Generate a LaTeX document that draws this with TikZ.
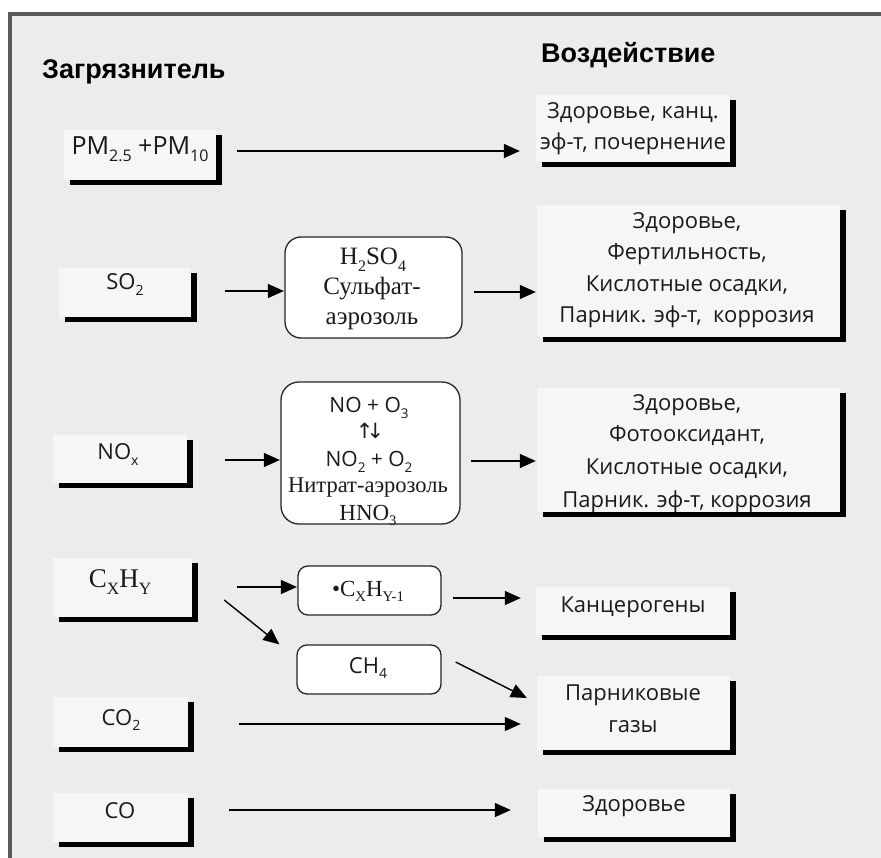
\documentclass[tikz,border=0pt]{standalone}
\usepackage{fontspec}
\usepackage{graphicx}
\setmainfont{Open Sans}
\newfontfamily\serf{Liberation Serif}
\newfontfamily\headf{Liberation Sans}
\newfontfamily\symf{DejaVu Sans}
\usetikzlibrary{arrows.meta,shadows}
\definecolor{bgc}{HTML}{ECECEC}
\definecolor{framec}{HTML}{5A5A5A}
\definecolor{boxc}{HTML}{F6F6F6}
\definecolor{txtc}{HTML}{1A1A1A}
\newcommand\sbs[1]{\raisebox{-0.26em}{\scalebox{0.64}{#1}}}
\tikzset{
  sbox/.style={rectangle, fill=boxc, inner sep=0pt,
    drop shadow={shadow xshift=6pt, shadow yshift=-5pt, fill=black, opacity=1}},
  rbox/.style={rectangle, rounded corners=#1, draw=black!85, line width=1.3pt, fill=white, inner sep=0pt},
  rbox/.default=10pt,
  arr/.style={-{Triangle[length=16pt,width=14pt]}, line width=1.4pt},
  head/.style={font=\headf\bfseries\fontsize{27}{30}\selectfont, anchor=base west, inner sep=0pt},
  tx/.style={font=\fontsize{22}{26}\selectfont, anchor=base, inner sep=0pt, text=txtc},
  tbig/.style={font=\fontsize{25}{30}\selectfont, anchor=base, inner sep=0pt, text=txtc},
  tsm/.style={font=\fontsize{21}{25}\selectfont, anchor=base, inner sep=0pt, text=txtc},
  ts/.style={font=\serf\fontsize{#1}{#1}\selectfont, anchor=base, inner sep=0pt, text=txtc},
}
\begin{document}
\begin{tikzpicture}[x=1pt,y=-1pt]
\useasboundingbox (0,0) rectangle (881,858);
\fill[white] (0,0) rectangle (881,858);
\fill[bgc] (10,14) rectangle (881,858);
\draw[framec, line width=4pt] (10,858) -- (10,14) -- (881,14);

% headers
\node[head] (hl) at (42,79) {Загрязнитель};
\node[head] (hr) at (541,63) {Воздействие};

% boxes with shadow
\node[sbox, minimum width=152pt, minimum height=50pt] (pm) at (140,155) {};
\node[sbox, minimum width=194pt, minimum height=67pt] (h1) at (633,128.5) {};
\node[sbox, minimum width=132pt, minimum height=49pt] (so2) at (125,292.5) {};
\node[sbox, minimum width=303pt, minimum height=132pt] (h2) at (688.5,271) {};
\node[sbox, minimum width=134pt, minimum height=48pt] (nox) at (120,459) {};
\node[sbox, minimum width=303pt, minimum height=124pt] (h3) at (688.5,450) {};
\node[sbox, minimum width=139pt, minimum height=59pt] (cxhy) at (122.5,587.5) {};
\node[sbox, minimum width=194pt, minimum height=48pt] (kanc) at (633,611) {};
\node[sbox, minimum width=193pt, minimum height=74pt] (gh) at (633.5,713) {};
\node[sbox, minimum width=135pt, minimum height=50pt] (co2) at (120.5,722) {};
\node[sbox, minimum width=135pt, minimum height=49pt] (co) at (120.5,817.5) {};
\node[sbox, minimum width=192pt, minimum height=48pt] (zd) at (634,813) {};

% rounded boxes
\node[rbox=16pt, minimum width=177pt, minimum height=101pt] (rs) at (373.5,287.5) {};
\node[rbox=18pt, minimum width=179pt, minimum height=142pt] (rn) at (370.5,453) {};
\node[rbox=10pt, minimum width=143pt, minimum height=49pt] (rc) at (369.5,590.5) {};
\node[rbox=10pt, minimum width=144pt, minimum height=49pt] (ch4) at (369,669.5) {};

% texts
\node[tbig] (pmt) at (140,155) {PM\sbs{2.5} +PM\sbs{10}};
\node[tx] (h1a) at (633,119) {Здоровье, канц.};
\node[tx] (h1b) at (633,150) {эф-т, почернение};
\node[tx] (so2t) at (125,290) {SO\sbs{2}};
\node[ts=25] (rsa) at (373,265) {H\sbs{2}SO\sbs{4}};
\node[ts=25] (rsb) at (372,295) {Сульфат-};
\node[ts=25] (rsc) at (372,325) {аэрозоль};
\node[tx] (h2a) at (687,229) {Здоровье,};
\node[tx] (h2b) at (687,260) {Фертильность,};
\node[tx] (h2c) at (687,292) {Кислотные осадки,};
\node[tx] (h2d) at (687,323) {Парник. эф-т,~ коррозия};
\node[tx] (noxt) at (118,460) {NO\sbs{x}};
\node[tsm] (rna) at (369,413) {NO + O\sbs{3}};
\node[font=\symf\fontsize{21}{21}\selectfont, inner sep=0pt, text=txtc] (rnb) at (370,431) {↑\kern-7pt↓};
\node[tsm] (rnc) at (369,467) {NO\sbs{2} + O\sbs{2}};
\node[ts=22.5] (rnd) at (368,492) {Нитрат-аэрозоль};
\node[ts=23] (rne) at (368,520) {HNO\sbs{3}};
\node[tx] (h3a) at (687,410) {Здоровье,};
\node[tx] (h3b) at (687,442) {Фотооксидант,};
\node[tx] (h3c) at (687,475) {Кислотные осадки,};
\node[tx] (h3d) at (687,507) {Парник. эф-т, коррозия};
\node[ts=27] (cxhyt) at (120,587) {C\sbs{X}H\sbs{Y}};
\node[ts=23] (rct) at (368,596) {•C\sbs{X}H\sbs{Y-1}};
\node[tx] (ch4t) at (368,673) {CH\sbs{4}};
\node[tx] (kanct) at (633,612) {Канцерогены};
\node[tx] (gha) at (633,700) {Парниковые};
\node[tx] (ghb) at (633,732) {газы};
\node[tx] (co2t) at (121,725) {CO\sbs{2}};
\node[tx] (cot) at (120,818) {CO};
\node[tx] (zdt) at (634,811) {Здоровье};

% connectors
\draw[arr] ([shift={(21,-4)}]pm.east) -- ([shift={(-16,22.5)}]h1.west);
\draw[arr] ([shift={(34,-1.5)}]so2.east) -- ([shift={(-0.5,3.5)}]rs.west);
\draw[arr] ([shift={(11,4.5)}]rs.east) -- ([shift={(-1,21)}]h2.west);
\draw[arr] ([shift={(38,1)}]nox.east) -- ([shift={(-0.5,7)}]rn.west);
\draw[arr] ([shift={(10,8)}]rn.east) -- ([shift={(-1,11)}]h3.west);
\draw[arr] ([shift={(45,-0.5)}]cxhy.east) -- ([shift={(-0.5,-3.5)}]rc.west);
\draw[arr] ([shift={(32,12.5)}]cxhy.east) -- ([shift={(-17,0)}]ch4.north west);
\draw[arr] ([shift={(11,7.5)}]rc.east) -- ([shift={(-15,-13)}]kanc.west);
\draw[arr] ([shift={(14,-7.5)}]ch4.east) -- ([shift={(-10,-15)}]gh.west);
\draw[arr] ([shift={(51,2)}]co2.east) -- ([shift={(-16,11)}]gh.west);
\draw[arr] ([shift={(41,-7.5)}]co.east) -- ([shift={(-27,-3)}]zd.west);
\end{tikzpicture}
\end{document}
